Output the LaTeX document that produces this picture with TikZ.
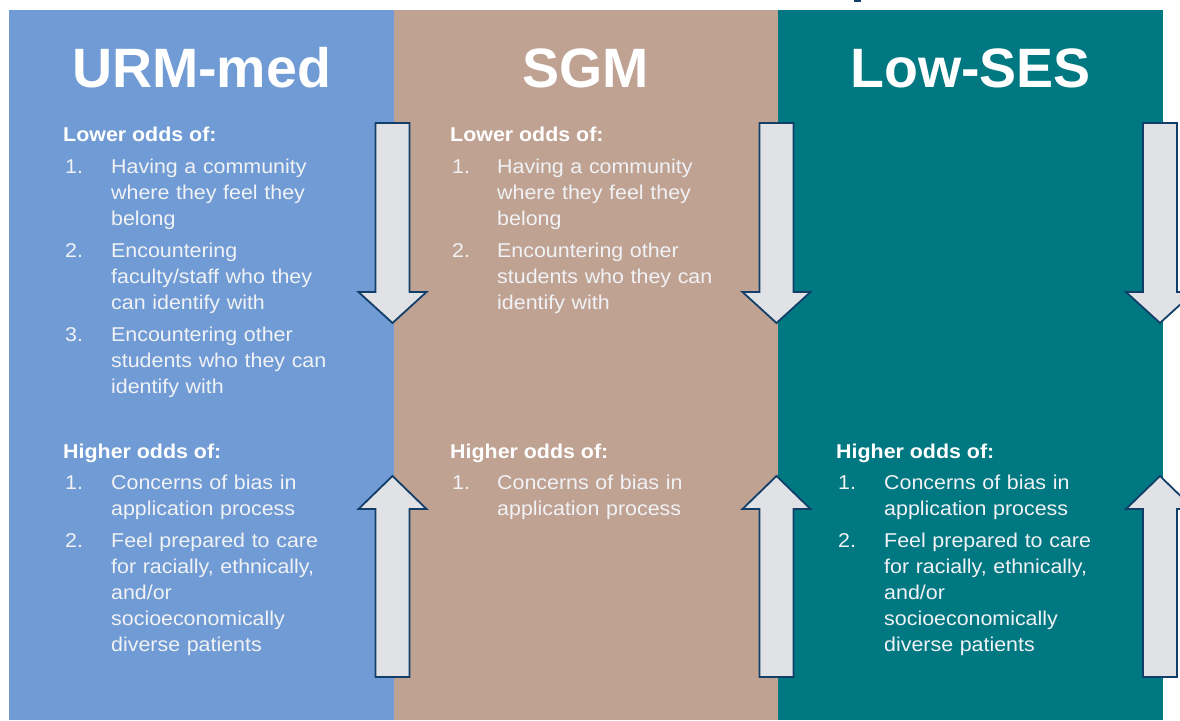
\documentclass[tikz,border=0pt]{standalone}
\usepackage{fontspec}
\setmainfont{Liberation Sans}
\newfontfamily\bodyfont[FakeStretch=1.07]{Liberation Sans}

\definecolor{urmblue}{RGB}{112,155,212}
\definecolor{sgmtan}{RGB}{192,162,147}
\definecolor{sesteal}{RGB}{0,120,130}
\definecolor{arrowgray}{RGB}{224,226,229}
\definecolor{arrowblue}{RGB}{18,63,105}
\definecolor{itemwhite}{RGB}{240,242,245}

\tikzset{
  colhead/.style={anchor=base, inner sep=0pt, text=white,
    font=\fontsize{55.5}{60}\selectfont\bfseries},
  oddshead/.style={anchor=base west, inner sep=0pt, text=white,
    font=\bodyfont\fontsize{20}{26}\selectfont\bfseries},
  itemnum/.style={anchor=base west, inner sep=0pt, text=itemwhite,
    font=\bodyfont\fontsize{20}{26}\selectfont},
  itemtext/.style={itemnum, text width=270pt, align=left},
  bigarrow/.style={fill=arrowgray, draw=arrowblue, line width=1.8pt, line join=miter}
}

% block arrows, #1 = centre x
\newcommand{\blockdown}[1]{%
  \draw[bigarrow] (#1-17,123) -- (#1+17,123) -- (#1+17,292) -- (#1+34,292)
    -- (#1,323) -- (#1-34,292) -- (#1-17,292) -- cycle;}
\newcommand{\blockup}[1]{%
  \draw[bigarrow] (#1-17,677) -- (#1+17,677) -- (#1+17,509) -- (#1+34,509)
    -- (#1,476) -- (#1-34,509) -- (#1-17,509) -- cycle;}

\begin{document}
\begin{tikzpicture}[x=1pt,y=-1pt]
  \useasboundingbox (0,0) rectangle (1180,720);
  \clip (0,0) rectangle (1180,720);

  % columns
  \fill[urmblue] (9,10) rectangle (394,720);
  \fill[sgmtan] (394,10) rectangle (778,720);
  \fill[sesteal] (778,10) rectangle (1163,720);
  \fill[arrowblue] (854,0) rectangle (861,1.5);

  % titles
  \node[colhead] (titleA) at (201.5,87) {URM-med};
  \node[colhead] (titleB) at (586,87) {SGM};
  \node[colhead] (titleC) at (970.5,87) {Low-SES};

  % arrows
  \foreach \cx in {392.5,776.5,1160} {
    \blockdown{\cx}
    \blockup{\cx}
  }

  % URM-med
  \node[oddshead] (lowA) at (63,141) {Lower odds of:};
  \node[itemnum] (lowAn1) at (65,173) {1.};
  \node[itemtext] (lowAt1) at (111,173) {Having a community\\where they feel they\\belong};
  \node[itemnum] (lowAn2) at (65,257) {2.};
  \node[itemtext] (lowAt2) at (111,257) {Encountering\\faculty/staff who they\\can identify with};
  \node[itemnum] (lowAn3) at (65,341) {3.};
  \node[itemtext] (lowAt3) at (111,341) {Encountering other\\students who they can\\identify with};

  \node[oddshead] (highA) at (63,458) {Higher odds of:};
  \node[itemnum] (highAn1) at (65,489) {1.};
  \node[itemtext] (highAt1) at (111,489) {Concerns of bias in\\application process};
  \node[itemnum] (highAn2) at (65,547) {2.};
  \node[itemtext] (highAt2) at (111,547) {Feel prepared to care\\for racially, ethnically,\\and/or\\socioeconomically\\diverse patients};

  % SGM
  \node[oddshead] (lowB) at (450,141) {Lower odds of:};
  \node[itemnum] (lowBn1) at (452,173) {1.};
  \node[itemtext] (lowBt1) at (497,173) {Having a community\\where they feel they\\belong};
  \node[itemnum] (lowBn2) at (452,257) {2.};
  \node[itemtext] (lowBt2) at (497,257) {Encountering other\\students who they can\\identify with};

  \node[oddshead] (highB) at (450,458) {Higher odds of:};
  \node[itemnum] (highBn1) at (452,489) {1.};
  \node[itemtext] (highBt1) at (497,489) {Concerns of bias in\\application process};

  % Low-SES
  \node[oddshead] (highC) at (836,458) {Higher odds of:};
  \node[itemnum] (highCn1) at (838,489) {1.};
  \node[itemtext] (highCt1) at (884,489) {Concerns of bias in\\application process};
  \node[itemnum] (highCn2) at (838,547) {2.};
  \node[itemtext] (highCt2) at (884,547) {Feel prepared to care\\for racially, ethnically,\\and/or\\socioeconomically\\diverse patients};
\end{tikzpicture}
\end{document}
